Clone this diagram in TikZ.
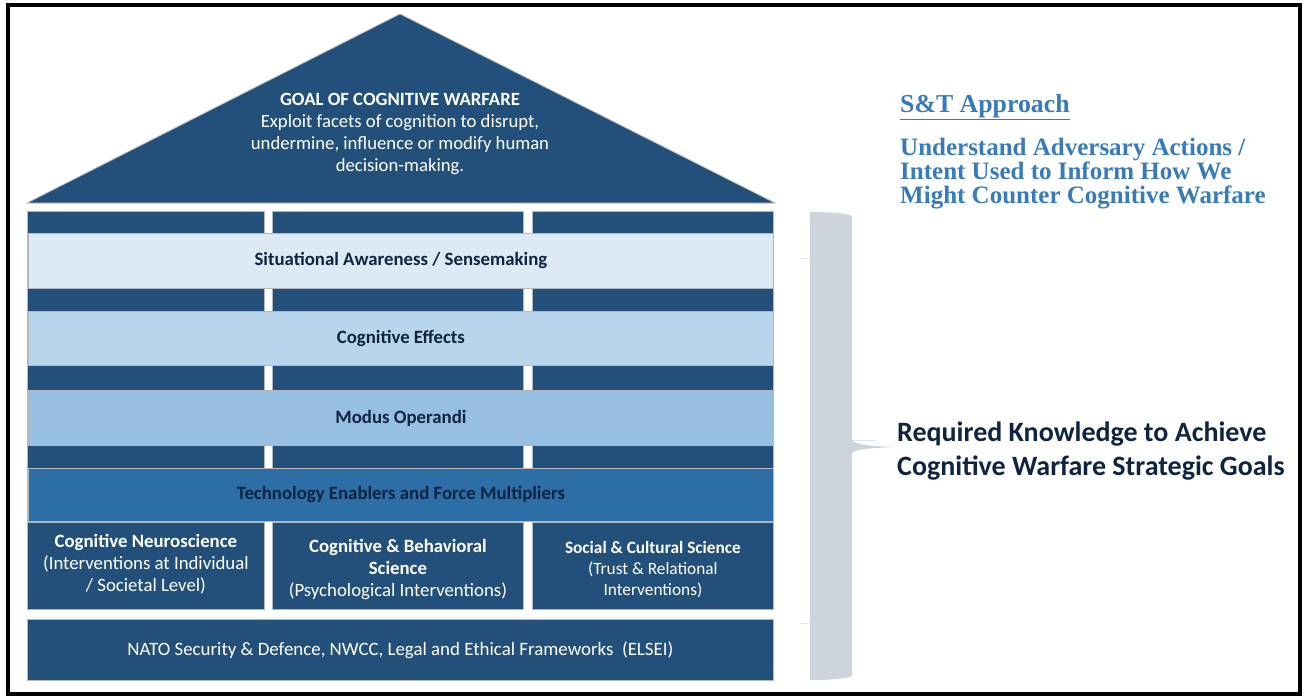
\documentclass[tikz,border=0pt]{standalone}
\usepackage{fontspec}
\setmainfont{Carlito}
\newfontfamily\serifb{Liberation Serif}
\definecolor{navy}{HTML}{22507A}
\definecolor{linegray}{HTML}{B4B8BC}
\definecolor{bandA}{HTML}{DDEAF5}
\definecolor{bandB}{HTML}{B9D5EB}
\definecolor{bandC}{HTML}{96BFE2}
\definecolor{bandD}{HTML}{2E6EA7}
\definecolor{txtnavy}{HTML}{0E2441}
\definecolor{stblue}{HTML}{377BBC}
\definecolor{brgray}{HTML}{CDD4DC}
\begin{document}
\begin{tikzpicture}[x=1pt,y=-1pt,
  box/.style={draw=linegray, line width=0.8pt, inner sep=0pt, anchor=north west, align=center},
  band/.style={box, minimum width=745pt, text=txtnavy, font=\bfseries\fontsize{18.8}{22}\selectfont},
  col/.style={box, fill=navy, minimum height=311pt},
  base/.style={box, fill=navy, minimum height=87pt},
  basetext/.style={text=white, align=center, inner sep=0pt}]
\useasboundingbox (0,0) rectangle (1305,696);
\draw[line width=4pt] (7.5,5) rectangle (1300,693.5);
% roof
\filldraw[fill=navy, draw=linegray, line width=0.8pt] (27,203) -- (400,14) -- (775,203) -- cycle;
\node[text=white, align=center, font=\fontsize{18.7}{22}\selectfont] (goal) at (400,134)
  {\textbf{GOAL OF COGNITIVE WARFARE}\\Exploit facets of cognition to disrupt,\\undermine, influence or modify human\\decision-making.};
% columns
\node[col, minimum width=237pt] (c1) at (27,211) {};
\node[col, minimum width=251pt] (c2) at (272,211) {};
\node[col, minimum width=241pt] (c3) at (532,211) {};
% bands
\node[band, fill=bandA, minimum height=55pt] (sa) at (28,233) {Situational Awareness / Sensemaking};
\node[band, fill=bandB, minimum height=54pt] (ce) at (28,311) {Cognitive Effects};
\node[band, fill=bandC, minimum height=55pt] (mo) at (28,390) {Modus Operandi};
\node[band, fill=bandD, minimum height=53pt] (te) at (28,468) {Technology Enablers and Force Multipliers};
% base boxes
\node[base, minimum width=237pt] (b1) at (27,522) {};
\node[base, minimum width=251pt] (b2) at (272,522) {};
\node[base, minimum width=241pt] (b3) at (532,522) {};
\node[basetext, font=\fontsize{18.8}{22}\selectfont] (b1t) at ([yshift=2pt]b1.center)
  {\textbf{Cognitive Neuroscience}\\(Interventions at Individual\\/ Societal Level)};
\node[basetext, font=\fontsize{18.8}{22}\selectfont] (b2t) at ([yshift=-4pt]b2.center)
  {\textbf{Cognitive \& Behavioral}\\\textbf{Science}\\(Psychological Interventions)};
\node[basetext, font=\fontsize{17.3}{21}\selectfont] (b3t) at ([yshift=-4pt]b3.center)
  {\textbf{Social \& Cultural Science}\\(Trust \& Relational\\Interventions)};
\node[box, fill=navy, text=white, minimum width=746pt, minimum height=61pt, font=\fontsize{18.9}{22}\selectfont] (nato) at (27,619)
  {NATO Security \& Defence, NWCC, Legal and Ethical Frameworks\ \ (ELSEI)};
% bracket
\draw[brgray!60, line width=0.8pt] (800,258) -- (810,258);
\draw[brgray!60, line width=0.8pt] (800,623) -- (810,623);
\draw[brgray!60, line width=0.8pt] (852,440) -- (875,440);
\fill[brgray] (810,212) .. controls (830,212) and (845,213) .. (852,216)
  -- (852,440) .. controls (856,445) and (870,446) .. (895,447)
  .. controls (870,448) and (856,449) .. (852,453)
  -- (852,676) .. controls (845,679) and (830,680) .. (810,680) -- cycle;
% right texts
\node[anchor=base west, inner sep=0pt, text=stblue, font=\serifb\bfseries\fontsize{25.8}{25}\selectfont] (st) at (900,112)
  {\underline{S\&T Approach}};
\node[anchor=north west, inner sep=0pt, align=left, text=stblue, font=\serifb\bfseries\fontsize{25}{24}\selectfont] (ua) at (900,138)
  {Understand Adversary Actions /\\Intent Used to Inform How We\\Might Counter Cognitive Warfare};
\node[anchor=west, inner sep=0pt, align=left, text=txtnavy, font=\bfseries\fontsize{28}{34}\selectfont] (rk) at (897,451)
  {Required Knowledge to Achieve\\Cognitive Warfare Strategic Goals};
\end{tikzpicture}
\end{document}
